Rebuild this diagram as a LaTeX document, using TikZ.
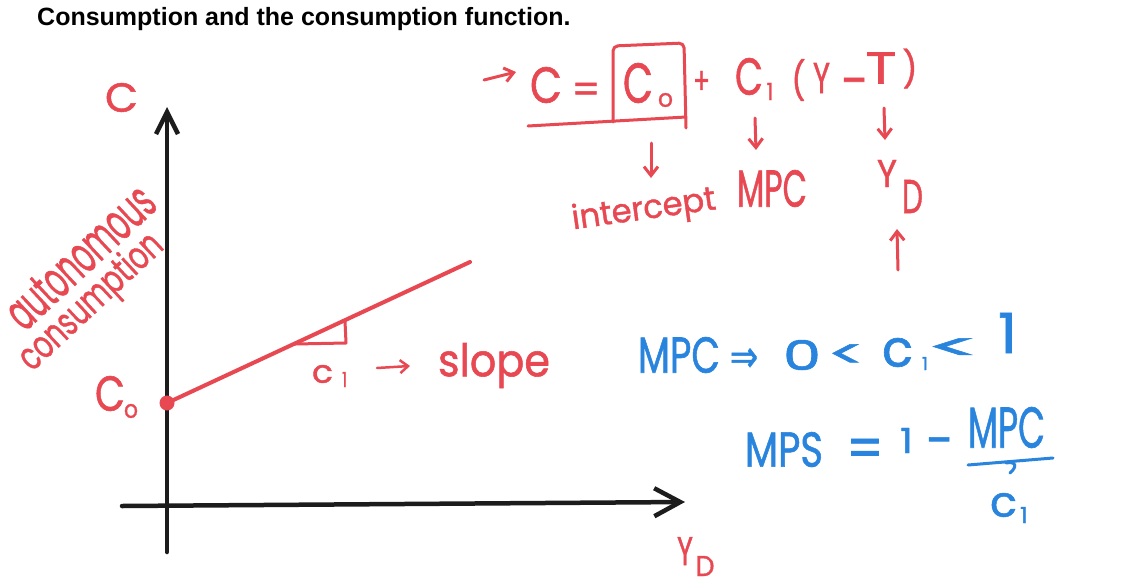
\documentclass[tikz,border=0pt]{standalone}
\usepackage{fontspec}
\usepackage{graphicx}
\setmainfont{Liberation Sans}
\newfontfamily\hand[FakeBold=1.2]{Poppins}
\newfontfamily\symf[FakeBold=1.2]{DejaVu Sans}
\usetikzlibrary{arrows.meta,calc}
\definecolor{hred}{RGB}{231,72,82}
\definecolor{hblue}{RGB}{40,132,220}
\definecolor{ink}{RGB}{28,28,28}
\newcommand\hw[3]{\resizebox*{#1pt}{#2pt}{\hand #3}}
\newcommand\hsym[4]{\scalebox{#3}[#4]{\fontsize{#1}{#1}\selectfont\hand #2}}
\tikzset{
  rt/.style={text=hred, inner sep=0pt, outer sep=0pt},
  bt/.style={text=hblue, inner sep=0pt, outer sep=0pt},
  axisline/.style={draw=ink, line width=4.5pt, line cap=round, line join=round},
  rline/.style={draw=hred, line width=4pt, line cap=round, line join=round},
  bline/.style={draw=hblue, line width=3pt, line cap=round, line join=round},
  rarr/.style={draw=hred, line width=3pt, line cap=round, -{Straight Barb[length=9pt,width=14pt]}},
}
\begin{document}
\begin{tikzpicture}[x=1pt,y=-1pt]
\useasboundingbox[fill=white] (0,0) rectangle (1141,584);

% title
\node[anchor=base west, inner sep=0pt, font=\fontsize{25}{30}\selectfont\bfseries] (title) at (37,25) {Consumption and the consumption function.};

% axes
\coordinate (ybot) at (167,552);
\coordinate (ytop) at (167,107);
\coordinate (xleft) at (122,506);
\coordinate (xright) at (685,502);
\draw[axisline, -{Straight Barb[length=22pt,width=22pt]}] (ybot) -- (ytop);
\draw[axisline, -{Straight Barb[length=26pt,width=28pt]}] (xleft) -- (xright);

% consumption line
\node[circle, fill=hred, minimum size=15pt, inner sep=0pt] (c0dot) at (167,403) {};
\coordinate (lineend) at (470,262);
\draw[rline] (c0dot.center) -- (lineend);
\draw[rline, line width=3pt] (295,344) -- (346,343) -- (345,321);

% axis labels
\node[rt] (Cax) at (121.5,97.5) {\hw{33}{29}{C}};
\node[rt] (C0C) at (110,393.5) {\hw{30}{35}{C}};
\node[rt] (C0o) at (131,411) {\hw{14}{14}{o}};
\node[rt, rotate=43] (auto) at (80,257) {\hw{184}{36}{autonomous}};
\node[rt, rotate=43] (cons) at (92,303) {\hw{182}{40}{consumption}};
\node[rt] (xY) at (685,551) {\hw{16}{28}{Y}};
\node[rt] (xD) at (705,566) {\hw{19}{20}{D}};

% slope label
\node[rt] (sc) at (322.5,374) {\hw{21}{18}{c}};
\node[rt] (sc1) at (344.5,379.5) {\hw{5}{15}{1}};
\coordinate (sa1) at (377,368);
\coordinate (sa2) at (410,366);
\draw[rarr, line width=2.5pt, -{Straight Barb[length=8pt,width=13pt]}] (sa1) -- (sa2);
\node[rt] (slope) at (494,365.5) {\hw{112}{45}{slope}};

% equation
\coordinate (ea1) at (484,80);
\coordinate (ea2) at (516,72);
\draw[rarr] (ea1) -- (ea2);
\node[rt] (eqC) at (546,85) {\hw{32}{36}{C}};
\node[rt] (eqeq) at (586,93) {\hsym{40}{=}{1}{1}};
\node[rt] (eqC0) at (638,83) {\hw{30}{40}{C}};
\node[rt] (eqC0s) at (665.5,100) {\hw{15}{14}{o}};
\node[rt] (plus) at (701.5,82.5) {\hw{17}{23}{+}};
\node[rt] (eqC1) at (749,76.5) {\hw{28}{37}{C}};
\node[rt] (eqC1s) at (770,91.5) {\hw{7}{17}{1}};
\node[rt] (lp) at (798.5,80) {\hw{14}{42}{(}};
\node[rt] (eqY) at (821.5,78) {\hw{17}{30}{Y}};
\node[rt] (eqmin) at (855,88) {\hsym{50}{-}{1}{1}};
\node[rt] (eqT) at (881,68) {\hw{31}{31}{T}};
\node[rt] (rp) at (910,68.5) {\hw{15}{40}{)}};
\draw[rline, line width=3pt, rounded corners=5pt] (613,122) -- (613,46) -- (684,43) -- (686,128);
\draw[rline, line width=3pt] (528,126) -- (686,117);

% labels under the equation
\node[rt, rotate=8] (intercept) at (644,211) {\hw{145}{34}{intercept}};
\node[rt] (mpcR) at (772,188.5) {\hw{70}{37}{MPC}};
\node[rt] (YDy) at (887,173.5) {\hw{20}{27}{Y}};
\node[rt] (YDd) at (912.5,196.5) {\hw{21}{33}{D}};
\coordinate (d1s) at (651,143);
\coordinate (d1e) at (651,178);
\coordinate (d2s) at (755,118);
\coordinate (d2e) at (756,150);
\coordinate (d3s) at (884,108);
\coordinate (d3e) at (885,140);
\coordinate (u1s) at (898,270);
\coordinate (u1e) at (897,229);
\draw[rarr] (d1s) -- (d1e);
\draw[rarr] (d2s) -- (d2e);
\draw[rarr] (d3s) -- (d3e);
\draw[rarr] (u1s) -- (u1e);

% blue notes
\node[bt] (mpcB) at (679,355) {\hw{82}{36}{MPC}};
\node[bt] (impl) at (744,360) {\scalebox{1.3}[1.7]{\fontsize{26}{26}\selectfont\symf ⇒}};
\node[bt] (zero) at (802,355) {\hw{38}{30}{0}};
\node[bt] (lt1) at (846.5,356) {\hsym{60}{<}{1.2}{0.65}};
\node[bt] (bc) at (897.5,352.5) {\hw{31}{29}{c}};
\node[bt] (bc1) at (925,363.5) {\hw{6}{13}{1}};
\node[bt] (lt2) at (954,349) {\hsym{72}{<}{1.5}{0.5}};
\node[bt] (one) at (1007.5,333) {\hw{19}{40}{1}};

\node[bt] (mps) at (784,449.5) {\hw{78}{35}{MPS}};
\node[bt] (eq2) at (865,453.5) {\hsym{52}{=}{1}{1.1}};
\node[bt] (one2) at (906.5,440.5) {\hw{13}{25}{1}};
\node[bt] (min2) at (940,447.5) {\hsym{50}{-}{1}{1}};
\node[bt] (mpc2) at (1006.5,427.5) {\hw{77}{41}{MPC}};
\coordinate (bl1) at (968,465);
\coordinate (bl2) at (1053,458);
\draw[bline] (bl1) -- (bl2);
\draw[bline] (1006,463) .. controls (1017,461) and (1017,467) .. (1010,473);
\node[bt] (bc2) at (1003.5,505) {\hw{27}{24}{c}};
\node[bt] (bc21) at (1024,515) {\hw{8}{16}{1}};
\end{tikzpicture}
\end{document}
